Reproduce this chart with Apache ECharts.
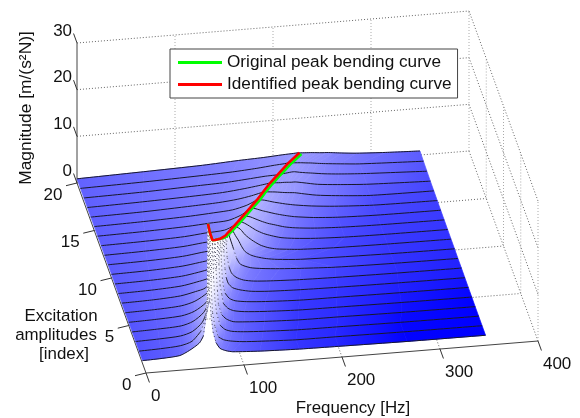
<!DOCTYPE html>
<html><head><meta charset="utf-8">
<style>html,body{margin:0;padding:0;background:#fff}#c{width:580px;height:418px}</style>
<script src="https://cdn.jsdelivr.net/npm/echarts@6/dist/echarts.min.js"></script>
</head><body><div id="c"></div>
<script>
// Tick labels
const freqTicks=[0,100,200,300,400];
const indexTicks=[0,5,10,15,20];
const magTicks=[0,10,20,30];
const legendNames=['Original peak bending curve','Identified peak bending curve'];
// Resonance curves, one per excitation index: frequency [Hz] and magnitude
const freq01=[0,20,38,48,58,62,66,66.8,68,70,72,75,79,85,92,120,160,200,270,350];
const mag01=[.62,.75,1.05,2,3.4,4.8,10.8,28.8,14.5,9,5.5,3.2,1.9,1.3,.95,.6,.35,.25,.1,.05];
const freq02=[0,22,42,54,63,68,71,72.3,73.5,75,77.4,80.8,86,93,105,125,160,200,270,350];
const mag02=[.62,.76,1.05,1.8,3.8,6.5,13,24.7,13,7.5,4.5,2.3,1.6,1.2,.85,.6,.3,.25,.11,.06];
const freq03=[0,24,46,58,68,73,77,78.4,79.5,81,82.7,86,91,98,110,130,165,205,270,350];
const mag03=[.64,.78,1.05,1.8,3.6,6,12.5,21,13,8,5.3,2.7,1.7,1.15,.85,.6,.32,.25,.12,.07];
const freq04=[0,26,50,62,73,79,83,84.5,85.5,87,88,91.3,96,103,115,135,170,210,275,350];
const mag04=[.66,.82,1.1,1.85,3.6,6,12,18.9,12.5,8,5,2.8,1.8,1.1,.85,.6,.33,.27,.13,.08];
const freq05=[0,28,54,67,79,85,89.5,91,92,93.2,95,96.5,101,107,118,138,173,212,278,350];
const mag05=[.68,.84,1.15,1.9,3.6,5.8,11,16.9,11.5,7,5,3.1,2,1.35,.95,.65,.35,.28,.16,.1];
const freq06=[0,30,57,71,84,91,95.5,97.1,98,99,100,101.7,106,112,124,143,178,215,280,350];
const mag06=[.7,.86,1.2,1.95,3.6,5.6,10,14.9,10,6.5,4.8,3.2,2,1.35,.95,.65,.35,.3,.19,.13];
const freq07=[0,32,60,75,85,97,101.5,103.2,104,105.3,106.5,108.6,113,120.6,132,150,182,220,282,350];
const mag07=[.72,.88,1.25,1.9,2.5,5,9,13.1,10,6.2,4.4,3.1,2.1,1.5,1,.7,.48,.35,.23,.17];
const freq08=[0,34,64,80,92,103,107.5,109.3,110,111,113,115.6,120,127.5,138,155,185,222,285,350];
const mag08=[.74,.9,1.25,1.85,2.5,4.6,8,11.3,9.5,6.5,4.5,3.1,2.2,1.46,1.05,.8,.55,.4,.26,.2];
const freq09=[0,36,68,85,97,109,113.5,115.4,117,119,121,124,128,138,150,168,190,225,285,350];
const mag09=[.76,.92,1.25,1.8,2.4,4.3,7,9.8,8.8,7.5,6.2,4.2,2.8,1.9,1.5,1.15,.85,.5,.3,.23];
const freq10=[0,38,72,90,103,115,120,121.9,124,126.5,129.4,133,136.5,142,148,158,169,193,285,350];
const mag10=[.78,.94,1.3,1.8,2.3,4,6.2,8.3,7.9,6.9,5.9,4.4,3.3,2.5,2,1.45,1.1,.7,.33,.26];
const freq11=[0,40,76,95,109,121,126.5,128.5,131,135,140,146.6,155,163,172,185,196,230,285,350];
const mag11=[.8,.96,1.3,1.8,2.2,3.6,5.3,6.9,6.7,6.1,4.8,3.6,2.4,1.7,1.25,.95,.75,.5,.36,.29];
const freq12=[0,42,80,100,116,128,134,136.1,139,143,148,154,162,170,180,194,215,245,285,350];
const mag12=[.8,.98,1.3,1.75,2.1,3.2,4.6,5.7,5.6,5.2,4.5,3.6,2.7,2.1,1.5,1.1,.75,.5,.38,.32];
const freq13=[0,45,85,106,126,136,142.5,144.7,148,152,157,163,170,178,187,198,218,245,285,350];
const mag13=[.82,1,1.3,1.7,2,2.9,4,4.7,4.6,4.4,3.9,3.3,2.7,2.2,1.65,1.25,.85,.58,.42,.35];
const freq14=[0,48,92,114,133,146,153,155.4,158,163,168,174,180,187,194,201,220,245,285,350];
const mag14=[.82,1.02,1.35,1.65,1.9,2.8,3.7,4.2,4.15,3.8,3.4,3,2.6,2.2,1.85,1.55,1.05,.68,.45,.38];
const freq15=[0,50,98,122,141,155,163,166,170,174,179,184,189,195,200,205,222,245,285,350];
const mag15=[.84,1.05,1.4,1.7,2,2.7,3.4,3.7,3.65,3.5,3.2,2.9,2.65,2.35,2.15,1.95,1.45,1,.55,.42];
const freq16=[0,53,104,130,150,164,173,175.7,178,183,188,193,198,203,208,215,230,250,285,350];
const mag16=[.84,1.05,1.45,1.7,2.1,2.6,3.05,3.2,3.2,3.1,3,2.85,2.7,2.6,2.5,2.2,1.6,1.15,.6,.46];
const freq17=[0,56,110,138,160,175,183,186.4,189,193,197,201,205,208,212,220,235,255,285,350];
const mag17=[.85,1.1,1.45,1.7,2.15,2.55,2.8,2.9,2.9,2.85,2.8,2.8,2.75,2.7,2.7,2.4,1.8,1.4,.95,.5];
const freq18=[0,60,116,145,170,185,195,198,200,204,208,212,215,220,226,233,245,260,285,350];
const mag18=[.87,1.1,1.5,1.7,2.1,2.35,2.42,2.45,2.5,2.6,2.7,2.8,2.8,2.6,2.4,2.2,1.85,1.55,1.2,.6];
const freq19=[0,64,122,155,180,198,208,211.8,214,217,220,223,226,230,235,242,250,265,285,350];
const mag19=[.88,1.15,1.5,1.75,2.1,2.45,2.6,2.7,2.7,2.65,2.6,2.55,2.5,2.4,2.3,2.1,1.9,1.6,1.25,.7];
const freq20=[0,68,128,165,190,210,221,225.5,228,232,236,240,245,250,255,262,270,285,315,350];
const mag20=[.9,1.25,1.6,2,2.2,2.45,2.55,2.6,2.55,2.5,2.45,2.4,2.3,2.2,2.16,2,1.8,1.5,1.15,.86];
// Peak bending curves, index 1..20
const identifiedFreq=[66.8,72.3,78.4,84.5,91,97.1,103.2,109.3,115.4,121.9,128.5,136.1,144.7,155.4,166,175.7,186.4,198,211.8,227];
const identifiedMag=[28.8,24.7,21,18.9,16.9,14.9,13.1,11.3,9.8,8.3,6.9,5.7,4.7,4.2,3.7,3.2,2.9,2.5,2.6,2.6];
const originalFreq=[66.8,72.3,78.4,84.5,91,97.1,104,110.5,117,123.5,130,138,146.5,157,168,177.5,188.5,200,214,229];
const originalMag=[28.8,24.7,21,18.9,16.9,14.9,12.9,11.1,9.6,8,6.6,5.4,4.4,3.9,3.4,2.9,2.6,2.25,2.3,2.3];

const freqRows=[freq01,freq02,freq03,freq04,freq05,freq06,freq07,freq08,freq09,freq10,freq11,freq12,freq13,freq14,freq15,freq16,freq17,freq18,freq19,freq20];
const magRows=[mag01,mag02,mag03,mag04,mag05,mag06,mag07,mag08,mag09,mag10,mag11,mag12,mag13,mag14,mag15,mag16,mag17,mag18,mag19,mag20];

// Fixed oblique view of the 3D box onto the drawing plane
function project(f,idx,m){
  return [146+0.98*f-3.45*idx, 373-0.08*f-9.5*idx-4.667*m];
}
const FONT='"Liberation Sans",Arial,sans-serif';
// Colour scale: logarithmic in magnitude, blue to white
function shade(m){
  let t=Math.max(0,Math.min(1,Math.log10(m/0.1)/Math.log10(30/0.1)));
  if(t>0.5) t=Math.min(1,0.5+(t-0.5)*1.35);
  const c=Math.round(255*t);
  return 'rgb('+c+','+c+',255)';
}
const chart=echarts.init(document.getElementById('c'),null,{renderer:'canvas',width:580,height:418});

function stripSeries(lowRow,order){
  const fa=freqRows[lowRow],ma=magRows[lowRow],fb=freqRows[lowRow+1],mb=magRows[lowRow+1];
  const cells=[];
  for(let k=fa.length-2;k>=0;k--) cells.push([k]);
  return {
    type:'custom',name:'surface '+(lowRow+1),coordinateSystem:'cartesian2d',z:order,silent:true,clip:false,
    data:cells,
    renderItem(params,api){
      const k=api.value(0);
      const P=(f,i,m)=>api.coord(project(f,i,m));
      const a0=P(fa[k],lowRow+1,ma[k]),a1=P(fa[k+1],lowRow+1,ma[k+1]);
      const b1=P(fb[k+1],lowRow+2,mb[k+1]),b0=P(fb[k],lowRow+2,mb[k]);
      const s=[(a0[0]+b0[0])/2,(a0[1]+b0[1])/2],e=[(a1[0]+b1[0])/2,(a1[1]+b1[1])/2];
      const grad=new echarts.graphic.LinearGradient(s[0],s[1],e[0],e[1],[
        {offset:0,color:shade((ma[k]+mb[k])/2)},
        {offset:1,color:shade((ma[k+1]+mb[k+1])/2)}],true);
      return {type:'polygon',shape:{points:[a0,a1,b1,b0]},style:{fill:grad,stroke:grad,lineWidth:0.7}};
    }
  };
}
// Row curve: solid where it runs along the surface, faint dots on the steep flanks
function rowLine(row,order){
  const fs=freqRows[row],ms=magRows[row];
  return {
    type:'custom',name:'index '+(row+1),coordinateSystem:'cartesian2d',z:order,silent:true,clip:false,
    data:[[row]],
    renderItem(p,api){
      const pts=fs.map((f,k)=>api.coord(project(f,row+1,ms[k])));
      const children=[];
      let run=[pts[0]];
      const flush=()=>{
        if(run.length>1) children.push({type:'polyline',shape:{points:run,smooth:0.25},style:{stroke:'#17172c',lineWidth:1,fill:null}});
      };
      for(let k=1;k<pts.length;k++){
        const dx=Math.abs(pts[k][0]-pts[k-1][0]),dy=Math.abs(pts[k][1]-pts[k-1][1]);
        if(dy>2.6*dx&&dy>6){
          flush();
          run=[pts[k]];
          children.push({type:'line',shape:{x1:pts[k-1][0],y1:pts[k-1][1],x2:pts[k][0],y2:pts[k][1]},style:{stroke:'#33334a',lineWidth:0.9,lineDash:[1,3]}});
        } else run.push(pts[k]);
      }
      flush();
      return {type:'group',children:children};
    }
  };
}
function peakLine(name,fs,ms,color,order){
  return {
    type:'line',name:name,z:order,silent:true,showSymbol:false,symbol:'none',clip:false,
    lineStyle:{color:color,width:2.6},itemStyle:{color:color},
    data:fs.map((f,k)=>project(f,k+1,ms[k]))
  };
}
// Box lines: dotted grid on floor and back walls, solid axes
const dottedFlat=[];
const dottedUpright=[];
magTicks.slice(1).forEach(m=>{
  dottedFlat.push([0,20,m,400,20,m]);
  dottedFlat.push([400,20,m,400,0,m]);
});
freqTicks.slice(1).forEach(f=>{
  dottedUpright.push([f,20,0,f,20,30]);
  dottedFlat.push([f,0,0,f,20,0]);
});
indexTicks.forEach(i=>{
  if(i<20) dottedUpright.push([400,i,0,400,i,30]);
  if(i>0) dottedFlat.push([0,i,0,400,i,0]);
});
const solid=[[0,0,0,400,0,0],[0,0,0,0,20,0],[0,20,0,0,20,30]];
function segSeries(name,items,style,order){
  return {type:'custom',name:name,coordinateSystem:'cartesian2d',z:order,silent:true,clip:false,data:items,
    renderItem(p,api){
      const a=api.coord(project(api.value(0),api.value(1),api.value(2)));
      const b=api.coord(project(api.value(3),api.value(4),api.value(5)));
      return {type:'line',shape:{x1:a[0],y1:a[1],x2:b[0],y2:b[1]},style:style};
    }};
}
const tickStyle={stroke:'#333',lineWidth:1};
const ticks=[];
magTicks.forEach(m=>ticks.push([0,20,m,0,21,m]));
freqTicks.forEach(f=>ticks.push([f,0,0,f,-1,0]));
const idxTickData=indexTicks.map(i=>[i]);
function textEl(text,x,y,align,size,extra){
  return Object.assign({type:'text',x:x,y:y,style:{text:text,fontFamily:FONT,fontSize:size,fill:'#111',align:align,verticalAlign:'middle'}},extra||{});
}
const idxTickSeries={type:'custom',name:'index ticks',coordinateSystem:'cartesian2d',z:1,silent:true,clip:false,data:idxTickData,
  renderItem(p,api){
    const a=api.coord(project(0,api.value(0),0));
    return {type:'group',children:[
      {type:'line',shape:{x1:a[0],y1:a[1],x2:a[0]-11,y2:a[1]+2.7},style:tickStyle},
      textEl(String(api.value(0)),a[0]-14.5,a[1]+12.2,'right',17)
    ]};
  }};
const magLabelSeries={type:'custom',name:'magnitude labels',coordinateSystem:'cartesian2d',z:1,silent:true,clip:false,data:magTicks.map(m=>[m]),
  renderItem(p,api){
    const a=api.coord(project(0,21,api.value(0)));
    return textEl(String(api.value(0)),a[0]-1.5,a[1]-2.5,'right',17);
  }};
const freqLabelSeries={type:'custom',name:'frequency labels',coordinateSystem:'cartesian2d',z:1,silent:true,clip:false,data:freqTicks.map(f=>[f]),
  renderItem(p,api){
    const a=api.coord(project(api.value(0),-1,0));
    return textEl(String(api.value(0)),a[0]+1.5,a[1]+14,'left',17);
  }};
const titles=[
  ['Frequency [Hz]',353,408,'center',0,16.9],
  ['Excitation',61,316,'center',0,16.9],
  ['amplitudes',56,335,'center',0,16.9],
  ['[index]',64,354,'center',0,16.9],
  ['Magnitude [m/(s\u00B2N)]',26,108,'center',Math.PI/2,17.4]
];
const titleSeries={type:'custom',name:'axis titles',coordinateSystem:'cartesian2d',z:1,silent:true,clip:false,data:titles.map((t,i)=>[i]),
  renderItem(p,api){
    const t=titles[api.value(0)];
    const c=api.coord([t[1],t[2]]);
    return textEl(t[0],c[0],c[1],t[3],t[5],{rotation:t[4]});
  }};

const series=[
  segSeries('grid floor',dottedFlat,{stroke:'#666',lineWidth:1,lineDash:[1,2]},1),
  segSeries('grid upright',dottedUpright,{stroke:'#aaa',lineWidth:1,lineDash:[1,2]},1),
  segSeries('axes',solid,{stroke:'#444',lineWidth:1},1),
  segSeries('ticks',ticks,tickStyle,1),
  idxTickSeries,magLabelSeries,freqLabelSeries,titleSeries
];
let order=2;
for(let r=18;r>=0;r--){
  series.push(stripSeries(r,order++));
  series.push(rowLine(r+1,order++));
}
series.push(rowLine(0,order++));
series.push(peakLine(legendNames[0],originalFreq,originalMag,'#00ff00',order++));
series.push(peakLine(legendNames[1],identifiedFreq,identifiedMag,'#ff0000',order++));

chart.setOption({
  animation:false,
  backgroundColor:'#fff',
  grid:{left:0,right:0,top:0,bottom:0},
  xAxis:{type:'value',min:0,max:580,show:false},
  yAxis:{type:'value',min:0,max:418,inverse:true,show:false},
  legend:{data:legendNames,orient:'vertical',left:170,top:49,z:200,icon:'rect',itemWidth:44,itemHeight:3,itemGap:5,
    padding:[5,6,5,8],backgroundColor:'#fff',borderColor:'#444',borderWidth:1,
    textStyle:{fontFamily:FONT,fontSize:17.2,color:'#111'}},
  series:series
});
</script></body></html>
